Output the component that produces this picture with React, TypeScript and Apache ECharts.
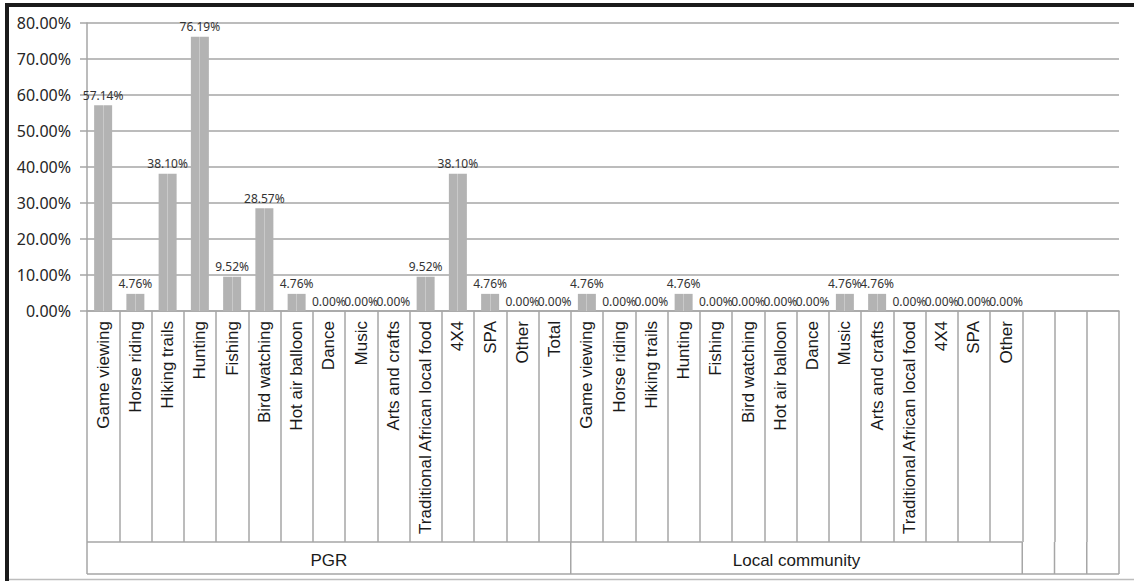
import React, { useEffect, useRef } from 'react';
import * as echarts from 'echarts';

const pgrCategories = ['Game viewing', 'Horse riding', 'Hiking trails', 'Hunting', 'Fishing', 'Bird watching', 'Hot air balloon', 'Dance', 'Music', 'Arts and crafts', 'Traditional African local food', '4X4', 'SPA', 'Other', 'Total'];
const localCategories = ['Game viewing', 'Horse riding', 'Hiking trails', 'Hunting', 'Fishing', 'Bird watching', 'Hot air balloon', 'Dance', 'Music', 'Arts and crafts', 'Traditional African local food', '4X4', 'SPA', 'Other'];
const emptyCategories = ['', '', ''];

const pgrValues = [57.14, 4.76, 38.10, 76.19, 9.52, 28.57, 4.76, 0, 0, 0, 9.52, 38.10, 4.76, 0, 0];
const localValues = [4.76, 0, 0, 4.76, 0, 0, 0, 0, 4.76, 4.76, 0, 0, 0, 0];
const emptyValues = [null, null, null];

const groupNames = ['PGR', 'Local community'];
const yMax = 80;
const yInterval = 10;

const GRID = '#a6a6a6';
const TICK_LEN = 231;
const GROUP_H = 32;

export default function App() {
  const ref = useRef<HTMLDivElement>(null);

  useEffect(() => {
    if (!ref.current) return;
    const chart = echarts.init(ref.current, null, { renderer: 'svg' });
    const categories = [...pgrCategories, ...localCategories, ...emptyCategories];
    const values = [...pgrValues, ...localValues, ...emptyValues];

    const frame = [
      { type: 'line', shape: { x1: 5, y1: 5, x2: 1134, y2: 5 }, style: { stroke: '#1a1a1a', lineWidth: 4 } },
      { type: 'line', shape: { x1: 7, y1: 3, x2: 7, y2: 581 }, style: { stroke: '#1a1a1a', lineWidth: 4 } },
      { type: 'line', shape: { x1: 9, y1: 579.5, x2: 1134, y2: 579.5 }, style: { stroke: '#bdbdbd', lineWidth: 1.5 } },
    ];

    chart.setOption({
      animation: false,
      backgroundColor: '#ffffff',
      grid: { left: 87, right: 15, top: 23, bottom: 270, containLabel: false },
      xAxis: {
        type: 'category',
        data: categories,
        boundaryGap: true,
        axisLine: { show: true, lineStyle: { color: GRID, width: 1.5 } },
        axisTick: { show: true, interval: 0, length: TICK_LEN, lineStyle: { color: GRID, width: 1.5 } },
        axisLabel: {
          interval: 0,
          rotate: 90,
          margin: 10,
          fontFamily: 'Liberation Sans, Arial, sans-serif',
          fontSize: 17,
          color: '#1a1a1a',
        },
      },
      yAxis: {
        type: 'value',
        min: 0,
        max: yMax,
        interval: yInterval,
        axisLine: { show: true, lineStyle: { color: GRID, width: 1.5 } },
        axisTick: { show: true, length: 7, lineStyle: { color: GRID, width: 1.5 } },
        splitLine: { show: true, lineStyle: { color: GRID, width: 1.5 } },
        axisLabel: {
          margin: 16,
          fontFamily: 'Noto Sans, sans-serif',
          fontSize: 16,
          color: '#262626',
          formatter: (v: number) => v.toFixed(2) + '%',
        },
      },
      series: [
        {
          type: 'bar',
          data: values,
          barWidth: 18,
          itemStyle: {
            color: {
              type: 'linear', x: 0, y: 0, x2: 1, y2: 0,
              colorStops: [
                { offset: 0, color: '#b3b3b3' },
                { offset: 0.47, color: '#b3b3b3' },
                { offset: 0.47, color: '#c9c9c9' },
                { offset: 0.53, color: '#c9c9c9' },
                { offset: 0.53, color: '#b3b3b3' },
                { offset: 1, color: '#b3b3b3' },
              ],
            },
          },
          label: {
            show: true,
            position: 'top',
            distance: 4,
            fontFamily: 'Noto Sans, sans-serif',
            fontSize: 12,
            color: '#333333',
            formatter: (p: any) => (p.value == null ? '' : Number(p.value).toFixed(2) + '%'),
          },
        },
      ],
      graphic: frame,
    });

    const c0 = chart.convertToPixel({ xAxisIndex: 0 }, 0) as number;
    const c1 = chart.convertToPixel({ xAxisIndex: 0 }, 1) as number;
    const bw = c1 - c0;
    const b = (k: number) => c0 - bw / 2 + k * bw;
    const y0 = chart.convertToPixel({ yAxisIndex: 0 }, 0) as number;
    const yTickEnd = y0 + TICK_LEN;
    const yGroupEnd = yTickEnd + GROUP_H;
    const nPgr = pgrCategories.length;
    const nLocal = nPgr + localCategories.length;
    const nAll = categories.length;

    const ls = { stroke: GRID, lineWidth: 1.5 };
    const extra: any[] = [
      { type: 'line', shape: { x1: b(0), y1: yTickEnd, x2: b(nLocal), y2: yTickEnd }, style: ls },
      { type: 'line', shape: { x1: b(0), y1: yGroupEnd, x2: b(nAll), y2: yGroupEnd }, style: ls },
    ];
    const bounds = [0, nPgr, nLocal];
    for (let k = nLocal + 1; k <= nAll; k++) bounds.push(k);
    bounds.forEach((k) => {
      extra.push({ type: 'line', shape: { x1: b(k), y1: yTickEnd, x2: b(k), y2: yGroupEnd }, style: ls });
    });
    const groupRanges = [[0, nPgr], [nPgr, nLocal]];
    groupRanges.forEach((r, i) => {
      extra.push({
        type: 'text',
        x: (b(r[0]) + b(r[1])) / 2,
        y: (yTickEnd + yGroupEnd) / 2 + 2,
        style: {
          text: groupNames[i],
          font: '17px "Liberation Sans", Arial, sans-serif',
          fill: '#1a1a1a',
          textAlign: 'center',
          textVerticalAlign: 'middle',
        },
      });
    });

    chart.setOption({ graphic: [...frame, ...extra] }, { replaceMerge: ['graphic'] });

    return () => chart.dispose();
  }, []);

  return (
    <div
      ref={ref}
      style={{ position: 'absolute', left: 0, top: 0, width: 1134, height: 581, background: '#fff' }}
    />
  );
}
